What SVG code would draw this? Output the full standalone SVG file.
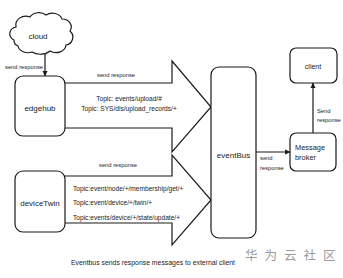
<svg xmlns="http://www.w3.org/2000/svg" width="343" height="278" viewBox="0 0 343 278">
<defs>
<style>
.box{fill:#fff;stroke:#1a1a1a;stroke-width:1.2}
.ln{fill:none;stroke:#1a1a1a;stroke-width:1.2}
.big{fill:#fff;stroke:#1a1a1a;stroke-width:1.2;stroke-linejoin:miter}
text{font-family:"Liberation Sans",Arial,sans-serif;fill:#222}
.nl{font-size:8px;text-anchor:middle}
.sm{font-size:5.8px}
.tp{font-size:6.6px}
.wm{font-family:"Noto Sans CJK SC",sans-serif;font-size:12.5px;fill:#9a9a9a}
</style>
<marker id="ah" markerWidth="6" markerHeight="6" refX="5" refY="3" orient="auto" markerUnits="userSpaceOnUse">
<path d="M0,0.5 L5.5,3 L0,5.5 Z" fill="#1a1a1a"/>
</marker>
</defs>
<rect width="343" height="278" fill="#fff"/>
<g id="connectors">
<path class="big" d="M64,83 H172 V61 L211,107 L172,152 V128 H64"/>
<path class="big" d="M64,176 H172 V155 L211,200 L172,245 V223 H64"/>
<line class="ln" x1="45" y1="53" x2="45" y2="76" marker-end="url(#ah)"/>
<line class="ln" x1="256" y1="152" x2="290" y2="152" marker-end="url(#ah)"/>
<line class="ln" x1="313" y1="133" x2="313" y2="83" marker-end="url(#ah)"/>
<text class="sm" x="5" y="69">send response</text>
<text class="sm" x="116" y="77" text-anchor="middle">send response</text>
<text class="tp" x="129" y="101" text-anchor="middle">Topic: events/upload/#</text>
<text class="tp" x="129" y="110.5" text-anchor="middle">Topic: SYS/dis/upload_records/+</text>
<text class="sm" x="118" y="167" text-anchor="middle">send response</text>
<text class="tp" x="73" y="190.5">Topic:event/node/+/membership/get/+</text>
<text class="tp" x="73" y="204.5">Topic:event/device/+/twin/+</text>
<text class="tp" x="73" y="219.5">Topic:events/device/+/state/update/+</text>
<text class="sm" x="260" y="160">send</text>
<text class="sm" x="260" y="170">response</text>
<text class="sm" x="317" y="113">Send</text>
<text class="sm" x="317" y="122">response</text>
</g>
<g id="cloud">
<path class="box" d="M14,40 a8,7 0 0 1 2,-13 a10,9 0 0 1 14,-10 a10,8 0 0 1 16,-2 a10,8 0 0 1 16,4 a9,8 0 0 1 8,12 a8,8 0 0 1 -4,14 a10,8 0 0 1 -16,6 a12,8 0 0 1 -18,1 a10,8 0 0 1 -14,-6 a6,6 0 0 1 -4,-6 Z"/>
<text class="nl" x="38" y="38.5">cloud</text>
</g>
<g id="edgehub">
<rect class="box" x="15" y="76" width="50" height="60" rx="8"/>
<text class="nl" x="40" y="110.5">edgehub</text>
</g>
<g id="deviceTwin">
<rect class="box" x="15" y="171" width="50" height="61" rx="8"/>
<text class="nl" x="40" y="205.5">deviceTwin</text>
</g>
<g id="eventBus">
<rect class="box" x="211" y="67" width="45" height="171" rx="8"/>
<text class="nl" x="233.5" y="157.5">eventBus</text>
</g>
<g id="client">
<rect class="box" x="290" y="48" width="47" height="35" rx="6"/>
<text x="313" y="69" font-size="7" text-anchor="middle">client</text>
</g>
<g id="broker">
<rect class="box" x="290" y="133" width="46" height="38" rx="6"/>
<text x="295" y="149.5" font-size="7.4">Message</text>
<text x="295" y="159.5" font-size="7.4">broker</text>
</g>
<text x="71" y="264.5" font-size="6.3" textLength="164" lengthAdjust="spacingAndGlyphs">Eventbus sends response messages to external client</text>
<text class="wm" x="245 264.5 284 303.5 323" y="260">华为云社区</text>
</svg>
